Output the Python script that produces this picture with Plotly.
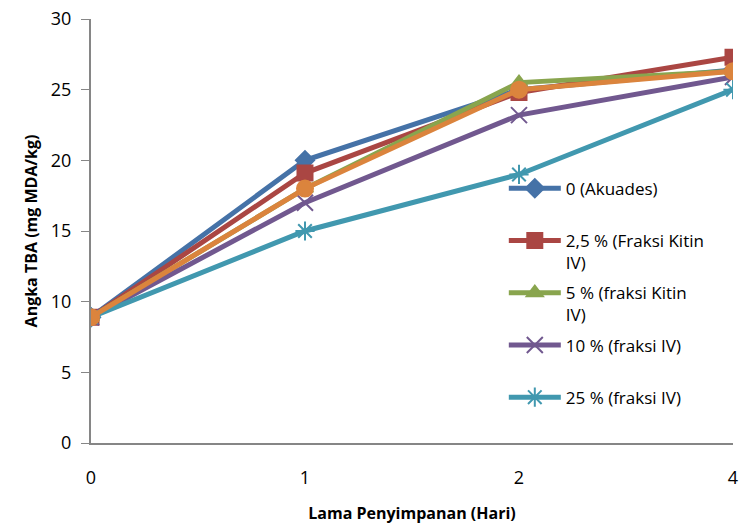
import plotly.graph_objects as go

hari = ["0", "1", "2", "4"]
names = ["0 (Akuades)", "2,5 % (Fraksi Kitin<br>IV)", "5 % (fraksi Kitin<br>IV)",
         "10 % (fraksi IV)", "25 % (fraksi IV)", "50 % (fraksi IV)"]
akuades = [8.9, 20.0, 25.0, 26.4]
kitin_2_5 = [8.9, 19.1, 24.8, 27.3]
kitin_5 = [8.9, 18.0, 25.5, 26.3]
fraksi_10 = [8.9, 17.0, 23.2, 25.9]
fraksi_25 = [8.9, 15.0, 19.0, 25.0]
fraksi_50 = [8.9, 18.0, 25.0, 26.3]

series = [akuades, kitin_2_5, kitin_5, fraksi_10, fraksi_25, fraksi_50]
colors = ["#4572A7", "#AA4643", "#89A54E", "#71588F", "#4198AF", "#DB843D"]
symbols = ["diamond", "square", "triangle-up", "x-thin-open", "asterisk-open", "circle"]
sizes = [14, 15, 14, 16, 16, 16]
show = [True, True, True, True, True, False]

fig = go.Figure()
for i, (nm, vals, c, s, sz, sh) in enumerate(zip(names, series, colors, symbols, sizes, show)):
    label = nm if "<br>" in nm else nm + "<br>&nbsp;"
    fig.add_trace(go.Scatter(
        x=hari, y=vals, name=label, mode="lines+markers", legendgroup=f"g{i}",
        line=dict(color=c, width=5),
        marker=dict(symbol=s, size=sz, color=c, line=dict(color=c, width=2)),
        showlegend=sh,
    ))

font = "Open Sans"
fig.update_layout(
    width=739, height=524,
    margin=dict(l=91, r=6, t=19, b=81),
    paper_bgcolor="white", plot_bgcolor="white",
    font=dict(family=font, size=18, color="black"),
    showlegend=True,
    legend=dict(x=0.643, y=0.642, xanchor="left", yanchor="top",
                valign="top", bgcolor="rgba(0,0,0,0)",
                font=dict(family=font, size=17, color="black"),
                itemwidth=52, tracegroupgap=5),
    xaxis=dict(type="category", range=[0, 3], showline=True, linecolor="#868686",
               linewidth=2, showgrid=False, ticks="", zeroline=False, automargin=False,
               ticklabeloverflow="allow",
               title=dict(text="<b>Lama Penyimpanan (Hari)</b>", font=dict(size=16), standoff=26),
               ticklabelstandoff=17),
    yaxis=dict(range=[0, 30], dtick=5, showline=True, linecolor="#868686", linewidth=2,
               showgrid=False, ticks="outside", ticklen=8, tickcolor="#868686",
               zeroline=False, automargin=False, ticklabelstandoff=6,
               ticklabeloverflow="allow",
               title=dict(text="<b>Angka TBA (mg MDA/kg)</b>", font=dict(size=16), standoff=9)),
)

fig.write_html("out.html", config={"displayModeBar": False},
               post_script="document.body.style.margin='0';document.body.style.padding='0';")
